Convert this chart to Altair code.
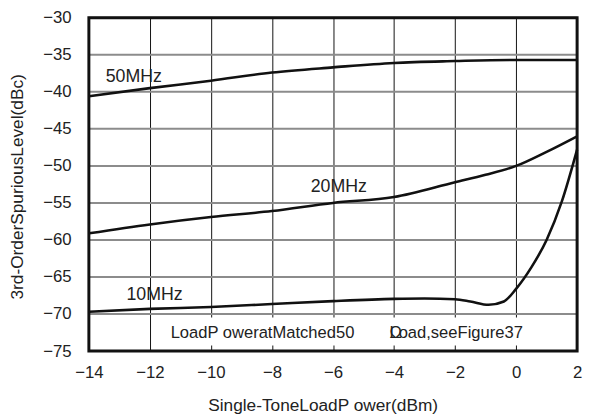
import altair as alt
import pandas as pd

# ---- data ----
x50 = [-14, -12, -10, -8, -6, -4, -2, 0, 2]
y50 = [-40.6, -39.5, -38.5, -37.4, -36.7, -36.1, -35.85, -35.7, -35.7]

x20 = [-14, -12, -10, -8, -6, -4, -2, -1, 0, 1, 2]
y20 = [-59.1, -57.9, -56.9, -56.1, -55.0, -54.2, -52.2, -51.2, -50.0, -48.1, -46.0]

x10 = [-14, -12, -10, -8, -6, -4, -3, -2, -1.5, -0.9, -0.4, 0, 0.5, 1, 1.5, 2]
y10 = [-69.7, -69.3, -69.05, -68.65, -68.25, -67.95, -67.9, -68.0, -68.3, -68.75, -68.3,
       -66.6, -63.7, -60.0, -54.8, -47.8]

label_text = ["50MHz", "20MHz", "10MHz"]
label_x = [-13.45, -6.73, -12.77]
label_y = [-38.0, -52.9, -67.5]

note_text = ["LoadP oweratMatched50", "Ω", "Load,seeFigure37"]
note_x = [-11.32, -4.15, -4.15]
note_y = [-72.6, -72.6, -72.6]

box_x = [-11.7]
box_x2 = [1.95]
box_y = [-70.45]
box_y2 = [-74.25]

frame_x = [-14]
frame_x2 = [2]
frame_y = [-75]
frame_y2 = [-30]

x_ticks = [-14, -12, -10, -8, -6, -4, -2, 0, 2]
y_ticks = [-75, -70, -65, -60, -55, -50, -45, -40, -35, -30]
x_range = [-14, 2]

rows = []
for name, xs, ys in (("50MHz", x50, y50), ("20MHz", x20, y20), ("10MHz", x10, y10)):
    for a, b in zip(xs, ys):
        rows.append({"series": name, "x": a, "y": b})
df = pd.DataFrame(rows)

# horizontal grid lines as two-point paths, one per y tick
grows = []
for t in y_ticks:
    for a in x_range:
        grows.append({"gy": t, "gx": a})
hgrid = pd.DataFrame(grows)

lab = pd.DataFrame({"t": label_text, "x": label_x, "y": label_y})
note = pd.DataFrame({"t": note_text, "x": note_x, "y": note_y})
box = pd.DataFrame({"bx": box_x, "bx2": box_x2, "by": box_y, "by2": box_y2})
frame = pd.DataFrame({"fx": frame_x, "fx2": frame_x2, "fy": frame_y, "fy2": frame_y2})

FONT = "Liberation Sans"
minus = "replace(datum.label, '-', '\u2212')"

xscale = alt.Scale(domain=[-14, 2], nice=False, zero=False)
yscale = alt.Scale(domain=[-75, -30], nice=False, zero=False)

xaxis = alt.Axis(values=x_ticks, tickCount=len(x_ticks), format="d", grid=True,
                 gridColor="#111111", gridWidth=1, gridOpacity=1,
                 ticks=False, domain=False, labelFontSize=17, labelFont=FONT,
                 labelColor="#222222", labelPadding=14, labelExpr=minus,
                 labelOverlap=False, labelFlush=False,
                 title="Single-ToneLoadP  ower(dBm)", titleFont=FONT, titleFontSize=17.5,
                 titleFontWeight="normal", titleColor="#222222",
                 titleX=237, titleY=55, titleBaseline="middle")
yaxis = alt.Axis(values=y_ticks, tickCount=len(y_ticks), format="d", grid=False,
                 ticks=False, domain=False, labelFontSize=17, labelFont=FONT,
                 labelColor="#222222", labelPadding=18, labelExpr=minus,
                 labelOverlap=False, labelFlush=False,
                 title="3rd-OrderSpuriousLevel(dBc)", titleFont=FONT, titleFontSize=17.5,
                 titleFontWeight="normal", titleColor="#222222",
                 titleAngle=-90, titleX=-72, titleY=171, titleBaseline="middle")

hg = alt.Chart(hgrid).mark_line(color="#8c8c8c", strokeWidth=2).encode(
    x=alt.X("gx:Q", scale=xscale, axis=xaxis),
    y=alt.Y("gy:Q", scale=yscale, axis=yaxis),
    detail="gy:N",
)

lines = alt.Chart(df).mark_line(color="#111111", strokeWidth=2.6, interpolate="monotone").encode(
    x=alt.X("x:Q", scale=xscale),
    y=alt.Y("y:Q", scale=yscale),
    detail="series:N",
)

white = alt.Chart(box).mark_rect(color="white").encode(
    x=alt.X("bx:Q", scale=xscale), x2="bx2:Q",
    y=alt.Y("by:Q", scale=yscale), y2="by2:Q",
)

border = alt.Chart(frame).mark_rect(filled=False, color="#111111",
                                    strokeWidth=3).encode(
    x=alt.X("fx:Q", scale=xscale), x2="fx2:Q",
    y=alt.Y("fy:Q", scale=yscale), y2="fy2:Q",
)

labels = alt.Chart(lab).mark_text(align="left", baseline="middle", font=FONT,
                                  fontSize=18, color="#222222").encode(
    x=alt.X("x:Q", scale=xscale), y=alt.Y("y:Q", scale=yscale), text="t:N")

notes = alt.Chart(note).mark_text(align="left", baseline="middle", font=FONT,
                                  fontSize=16.8, color="#222222").encode(
    x=alt.X("x:Q", scale=xscale), y=alt.Y("y:Q", scale=yscale), text="t:N")

chart = alt.layer(hg, white, lines, border, labels, notes).properties(
    width=495, height=338,
    background="white",
    autosize=alt.AutoSizeParams(type="none"),
    padding={"left": 82, "top": 7, "right": 7, "bottom": 68},
).configure_view(stroke=None)

chart.save("out.html", embed_options={"renderer": "svg", "actions": False})
